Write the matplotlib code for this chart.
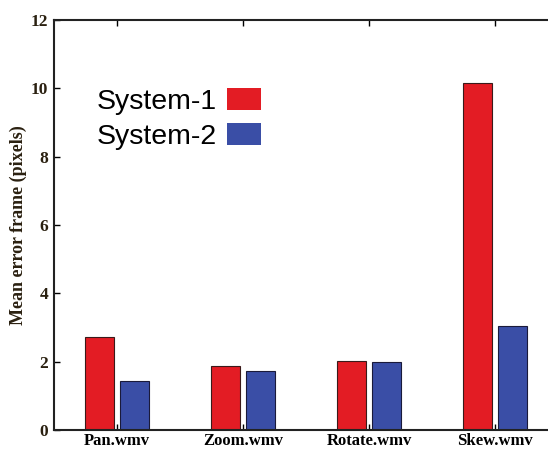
import matplotlib
matplotlib.use('Agg')
import matplotlib.pyplot as plt
import numpy as np

# Data
videos = ['Pan.wmv', 'Zoom.wmv', 'Rotate.wmv', 'Skew.wmv']
system_1 = [2.73, 1.88, 2.02, 10.15]
system_2 = [1.43, 1.73, 1.99, 3.05]
y_ticks = [0, 2, 4, 6, 8, 10, 12]

red = '#e31c24'
blue = '#3a4ea6'

fig = plt.figure(figsize=(5.48, 4.5), dpi=100)
# axes run a little past the right edge of the figure, as in the reference
ax = fig.add_axes([0.0985, 0.0444, 0.92, 0.9112])

x = np.arange(len(videos))
w = 0.23
off = 0.139
ax.bar(x - off, system_1, w, color=red, edgecolor='#3a1a1a', linewidth=0.8,
       label='System-1')
ax.bar(x + off, system_2, w, color=blue, edgecolor='#1a1a3a', linewidth=0.8,
       label='System-2')

ax.set_xlim(-0.5, 3.5)
ax.set_ylim(0, 12)
ax.set_xticks(x)
ax.set_xticklabels(videos, family='Liberation Serif', fontweight='bold',
                   fontsize=12)
ax.set_yticks(y_ticks)
ax.set_yticklabels([str(v) for v in y_ticks], family='Liberation Serif',
                   fontweight='bold', fontsize=12.5, color='#2a2010')
ax.set_ylabel('Mean error frame (pixels)', family='Liberation Serif',
              fontweight='bold', fontsize=13, labelpad=3, color='#2a2010')

ax.tick_params(axis='both', direction='in', length=4, width=1, pad=4,
               top=True, right=False)
ax.tick_params(axis='x', pad=2)
for side in ['left', 'bottom', 'top']:
    ax.spines[side].set_linewidth(1.5)
    ax.spines[side].set_color('#222222')
ax.spines['right'].set_visible(False)

leg = ax.legend(loc='upper left', bbox_to_anchor=(97 / 548, 1 - 88 / 450),
                bbox_transform=fig.transFigure, frameon=False,
                markerfirst=False, borderpad=0, borderaxespad=0,
                handlelength=1.2, handleheight=0.8, handletextpad=0.35,
                labelspacing=0.3, prop={'family': 'Liberation Sans', 'size': 20.5})
for h in leg.legend_handles:
    h.set_edgecolor('none')

fig.savefig('out.png', dpi=100)
